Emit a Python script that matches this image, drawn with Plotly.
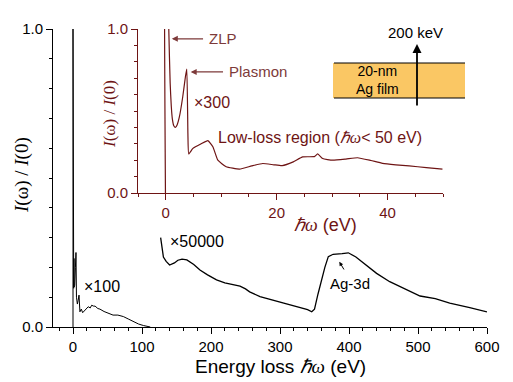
import plotly.graph_objects as go

# main spectrum: zero-loss + low-loss part (x100)
main_low_ev = [0, 0, 0.6, 1.0, 1.4, 1.5, 2.5, 3.5, 4.3, 5.0, 6.3, 7.5, 8.7, 10, 12, 14, 17.4, 20,
               22, 25, 27, 30, 32, 36, 39, 45, 50, 58, 65, 73, 80, 87, 95, 102, 108, 112]
main_low_val = [0, 1.0, 0.0, 0.13, 0.23, 0.134, 0.14, 0.20, 0.25, 0.10, 0.077, 0.09, 0.107, 0.051,
                0.06, 0.048, 0.057, 0.062, 0.068, 0.064, 0.073, 0.07, 0.07, 0.062, 0.06, 0.052,
                0.047, 0.04, 0.04, 0.035, 0.027, 0.018, 0.01, 0.005, 0.002, 0.0]

# core-loss part (x50000)
core_ev = [127, 129, 131, 135, 140, 147, 152, 158, 165, 175, 184, 195, 208, 220, 232, 242, 250,
           256, 271, 290, 305, 325, 340, 346, 350, 355, 360, 365, 370, 377, 390, 399, 410, 425,
           440, 459, 480, 503, 525, 546, 575, 600]
core_val = [0.30, 0.27, 0.235, 0.22, 0.208, 0.215, 0.224, 0.228, 0.225, 0.21, 0.191, 0.175, 0.158,
            0.148, 0.143, 0.137, 0.128, 0.118, 0.102, 0.09, 0.08, 0.068, 0.058, 0.051, 0.06, 0.11,
            0.158, 0.2, 0.236, 0.244, 0.246, 0.249, 0.235, 0.208, 0.18, 0.152, 0.128, 0.104,
            0.095, 0.08, 0.065, 0.051]

# inset: low-loss region (x300)
inset_ev = [-0.05, 0.0, 0.2, 0.55, 0.8, 1.0, 1.2, 1.45, 1.75, 2.05, 2.47, 3.07, 3.55, 3.8, 4.0,
            4.15, 4.9, 6.4, 7.6, 8.5, 9.4, 10.9, 13.3, 15.5, 17.5, 19.5, 21, 23, 24.7, 26.8, 27.4,
            28.3, 30.1, 32.5, 34.6, 37, 39.1, 41.5, 43.9, 47, 49.9]
inset_val = [0, 2.0, 2.0, 1.0, 0.67, 0.53, 0.45, 0.41, 0.40, 0.415, 0.465, 0.587, 0.709, 0.756,
             0.36, 0.238, 0.272, 0.30, 0.319, 0.282, 0.20, 0.16, 0.146, 0.165, 0.18, 0.172,
             0.167, 0.19, 0.22, 0.222, 0.238, 0.21, 0.20, 0.207, 0.215, 0.198, 0.181, 0.172,
             0.165, 0.155, 0.146]

MAROON = "#6e1414"
MAROON_LT = "#7d3a3a"
FONT = "Arial, Liberation Sans, sans-serif"
SERIF = "Liberation Serif, Times New Roman, serif"
HW = "<span style=\"font-family:'Liberation Serif'\"><i>ℏω</i></span>"

# page body has an 8px margin, so the figure is shrunk by that much
OFF = 8
W, H = 513 - OFF, 382 - OFF
# plot area in window pixels
L, R, T, B = 53, 487, 29, 327


def px(x):
    return (x - L) / (R - L)


def py(y):
    return (B - y) / (B - T)


def label(x, y, text, size, color="black", family=FONT, xanchor="center", **kw):
    return dict(x=px(x), y=py(y), xref="paper", yref="paper", showarrow=False, text=text,
                xanchor=xanchor, yanchor="middle",
                font=dict(size=size, color=color, family=family), **kw)


fig = go.Figure()

fig.add_trace(go.Scatter(x=main_low_ev, y=main_low_val, mode="lines",
                         line=dict(color="black", width=1), xaxis="x", yaxis="y"))
fig.add_trace(go.Scatter(x=core_ev, y=core_val, mode="lines",
                         line=dict(color="black", width=1.3), xaxis="x", yaxis="y"))
fig.add_trace(go.Scatter(x=inset_ev, y=inset_val, mode="lines", line_shape="spline",
                         line=dict(color=MAROON, width=1.2, smoothing=0.4),
                         xaxis="x2", yaxis="y2"))

annotations = [
    # axis titles
    label(280, 366, f"Energy loss {HW} (eV)", 19),
    label(22, 175, "<i>I</i>(ω) / <i>I</i>(0)", 19, family=SERIF, textangle=-90),
    label(325, 225, f"{HW} (eV)", 18, color=MAROON),
    label(109, 114, "<i>I</i>(ω) / <i>I</i>(0)", 17, color=MAROON, family=SERIF, textangle=-90),
    # multipliers
    label(82, 286, "×100", 16, xanchor="left"),
    label(168, 241, "×50000", 16, xanchor="left"),
    label(192, 103, "×300", 16, color=MAROON, xanchor="left"),
    label(216, 137, f"Low-loss region ({HW}< 50 eV)", 16, color=MAROON, xanchor="left"),
    # ZLP / Plasmon
    label(207, 39, "ZLP", 15, color=MAROON_LT, xanchor="left"),
    label(227, 72, "Plasmon", 15, color=MAROON_LT, xanchor="left"),
    dict(x=1.1, y=0.94, xref="x2", yref="y2", ax=7.0, ay=0.94, axref="x2", ayref="y2",
         text="", showarrow=True, arrowhead=2, arrowsize=1, arrowwidth=1.2, arrowcolor=MAROON_LT),
    dict(x=4.5, y=0.738, xref="x2", yref="y2", ax=10.6, ay=0.738, axref="x2", ayref="y2",
         text="", showarrow=True, arrowhead=2, arrowsize=1, arrowwidth=1.2, arrowcolor=MAROON_LT),
    # Ag-3d
    label(350, 283, "Ag-3d", 15),
    dict(x=386, y=0.219, xref="x", yref="y", ax=394, ay=0.188, axref="x", ayref="y",
         text="", showarrow=True, arrowhead=2, arrowsize=0.8, arrowwidth=1, arrowcolor="black"),
    # film sketch
    label(377, 80, "20-nm<br>Ag film", 14),
    label(415, 32, "200 keV", 15),
    dict(x=px(417), y=py(44), xref="paper", yref="paper", ax=0, ay=63,
         text="", showarrow=True, arrowhead=2, arrowsize=1,
         arrowwidth=1.8, arrowcolor="black"),
]

shapes = [
    dict(type="rect", xref="paper", yref="paper", x0=px(333), x1=px(465), y0=py(98), y1=py(63),
         fillcolor="#fac764", line=dict(width=0), layer="below"),
    dict(type="line", xref="paper", yref="paper", x0=px(334), x1=px(465), y0=py(63), y1=py(63),
         line=dict(color="black", width=1.2)),
    dict(type="line", xref="paper", yref="paper", x0=px(334), x1=px(465), y0=py(98), y1=py(98),
         line=dict(color="black", width=1.2)),
]

axis_common = dict(showline=True, linewidth=1, ticks="outside", showgrid=False, zeroline=False,
                   ticklen=6, tickwidth=1)

fig.update_layout(
    width=W, height=H,
    margin=dict(l=L - OFF, r=513 - R, t=T - OFF, b=382 - B, autoexpand=False),
    paper_bgcolor="white", plot_bgcolor="rgba(0,0,0,0)",
    showlegend=False,
    font=dict(family=FONT),
    xaxis=dict(**axis_common, domain=[0, 1], anchor="y", range=[-29, 600], dtick=100, tick0=0,
               linecolor="black", tickcolor="black",
               tickfont=dict(size=15, color="black"),
               minor=dict(ticks="outside", dtick=20, ticklen=3, tickcolor="black")),
    yaxis=dict(**axis_common, domain=[0, 1], anchor="x", range=[0, 1], dtick=1, tick0=0,
               tickformat=".1f", linecolor="black", tickcolor="black",
               tickfont=dict(size=15, color="black"),
               minor=dict(ticks="outside", dtick=0.1, ticklen=3, tickcolor="black")),
    xaxis2=dict(**axis_common, domain=[px(138), px(443)], anchor="y2", range=[-5, 50], dtick=20,
                tick0=0, linecolor=MAROON, tickcolor=MAROON,
                tickfont=dict(size=15, color=MAROON),
                minor=dict(ticks="outside", dtick=5, ticklen=3, tickcolor=MAROON)),
    yaxis2=dict(**axis_common, domain=[py(193), 1], anchor="x2", range=[0, 1], dtick=1, tick0=0,
                tickformat=".1f", linecolor=MAROON, tickcolor=MAROON,
                tickfont=dict(size=15, color=MAROON),
                minor=dict(ticks="outside", dtick=0.1, ticklen=3, tickcolor=MAROON)),
    annotations=annotations,
    shapes=shapes,
)

fig.write_html("out.html")
